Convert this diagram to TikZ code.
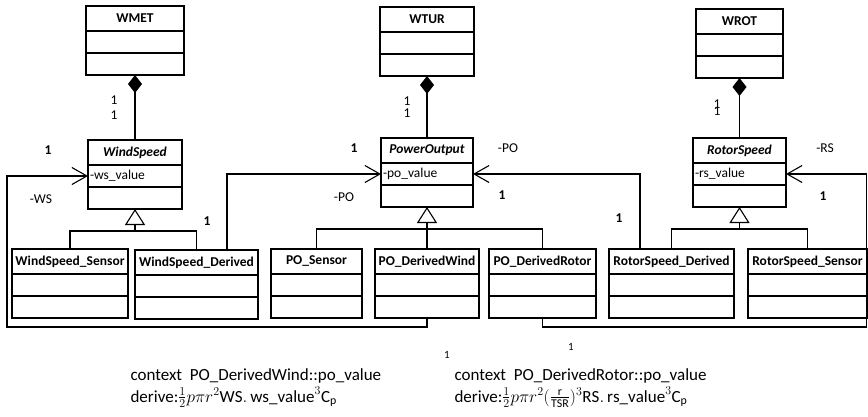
\documentclass[tikz,border=0pt]{standalone}
\usepackage{fontspec}
\setmainfont{Carlito}
\usetikzlibrary{positioning,arrows.meta}
\newcommand{\umlfont}{\fontsize{13.5}{16}\selectfont}
\newcommand{\oclfont}{\fontsize{17}{20}\selectfont}
% class box: name, top-left corner, width, title, attribute
\newcommand{\umlclass}[5]{%
  \node[clshead, minimum width=#3pt, anchor=north west] (#1) at (#2) {#4};
  \node[clsrow, minimum width=#3pt, below=0pt of #1] (#1-a)
    {\makebox[\dimexpr#3pt-4pt\relax][l]{#5}};
  \node[clsrow, minimum width=#3pt, below=0pt of #1-a] (#1-o) {};
}

\begin{document}
\begin{tikzpicture}[
  x=1pt, y=-1pt,
  line width=1.1pt,
  font=\umlfont,
  clshead/.style={draw, outer sep=0pt, minimum height=25pt, inner xsep=2pt, inner ysep=0pt, font=\umlfont\bfseries},
  clsrow/.style={draw, outer sep=0pt, minimum height=22pt, inner xsep=2pt, inner ysep=0pt, font=\umlfont},
  comp/.style={{Diamond[length=18pt,width=14pt]}-},
  gen/.style={-{Triangle[open,length=16pt,width=20pt]}},
  assoc/.style={-{Straight Barb[length=15pt,width=17pt]}},
  mult/.style={font=\umlfont\bfseries, inner sep=0pt},
  txt/.style={font=\umlfont, inner sep=0pt},
  ocl/.style={font=\oclfont, inner sep=0pt, anchor=base west}
]
\useasboundingbox (0,0) rectangle (868,416);

% top row
\umlclass{wmet}{86,6}{98}{WMET}{}
\umlclass{wtur}{380,7}{94}{WTUR}{}
\umlclass{wrot}{696,9}{87}{WROT}{}

% abstract classes
\umlclass{ws}{88,140}{94}{\textit{WindSpeed}}{-ws\_value}
\umlclass{po}{381,138}{92}{\textit{PowerOutput}}{-po\_value}
\umlclass{rs}{693,138}{93}{\textit{RotorSpeed}}{-rs\_value}

% concrete classes
\umlclass{wss}{12,249}{116}{WindSpeed\_Sensor}{}
\umlclass{wsd}{135,250}{123}{WindSpeed\_Derived}{}
\umlclass{pos}{271,249}{91}{PO\_Sensor}{}
\umlclass{powd}{375,249}{104}{PO\_DerivedWind}{}
\umlclass{pord}{489,249}{107}{PO\_DerivedRotor}{}
\umlclass{rsd}{609,249}{125}{RotorSpeed\_Derived}{}
\umlclass{rss}{748,249}{119}{RotorSpeed\_Sensor}{}

% composition
\draw[comp] (wmet-o.south) -- (ws.north);
\draw[comp] (wtur-o.south) -- (po.north);
\draw[comp] (wrot-o.south) -- (rs.north);
\node[txt] (c1a) at (114,100) {1};
\node[txt] (c1b) at (114,115) {1};
\node[txt] (c2a) at (407,101) {1};
\node[txt] (c2b) at (407,113) {1};
\node[txt] (c3a) at (717,104) {1};
\node[txt] (c3b) at (717,111) {1};

% generalization
\coordinate (ws-g) at (135,231);
\draw[gen] (ws-g) -- (ws-o.south);
\draw (wss.north) |- (ws-g) -| (wsd.north);
\coordinate (po-g) at (427,229);
\draw[gen] (po-g) -- (po-o.south);
\draw (pos.north) |- (po-g) -| (pord.north);
\draw (powd.north) -- (powd.north |- po-g);
\coordinate (rs-g) at (739.5,229);
\draw[gen] (rs-g) -- (rs-o.south);
\draw (rsd.north) |- (rs-g) -| (rss.north);

% associations
\coordinate (loopL) at (7,327);
\coordinate (loopR) at (866.5,327);
\draw[assoc] (powd-o.south) |- (loopL) |- (ws-a.west);
\draw[assoc] ([xshift=30.5pt]wsd.north) |- (po-a.west);
\draw[assoc] ([xshift=-31.5pt]rsd.north) |- (po-a.east);
\draw[assoc] (pord-o.south) |- (loopR) |- (rs-a.east);

\node[mult] (m1) at (48,150) {1};
\node[txt] (r1) at (41,199) {-WS};
\node[mult] (m2) at (207,221) {1};
\node[mult] (m3) at (354,148) {1};
\node[txt] (r2) at (344,197) {-PO};
\node[txt] (r3) at (508,148) {-PO};
\node[mult] (m4) at (502,195) {1};
\node[mult] (m5) at (619,218) {1};
\node[txt] (r4) at (825,148) {-RS};
\node[mult] (m6) at (823,196) {1};

% constraints
\node[ocl] (ctxw) at (130,380) {context\hspace{0.45em}PO\_DerivedWind::po\_value};
\node[ocl] (drvw) at (130,402) {derive:$\frac{1}{2}p\pi r^2\mathrm{WS.\,ws\_value}^3\mathrm{C_p}$};
\node[ocl] (ctxr) at (454,380) {context\hspace{0.45em}PO\_DerivedRotor::po\_value};
\node[ocl] (drvr) at (454,402) {derive:$\frac{1}{2}p\pi r^2(\frac{\mathrm{r}}{\mathrm{TSR}})^3\mathrm{RS.\,rs\_value}^3\mathrm{C_p}$};
\node[inner sep=0pt, font=\fontsize{11}{12}\selectfont] (s1) at (447,355) {1};
\node[inner sep=0pt, font=\fontsize{11}{12}\selectfont] (s2) at (571,347) {1};

\end{tikzpicture}
\end{document}
